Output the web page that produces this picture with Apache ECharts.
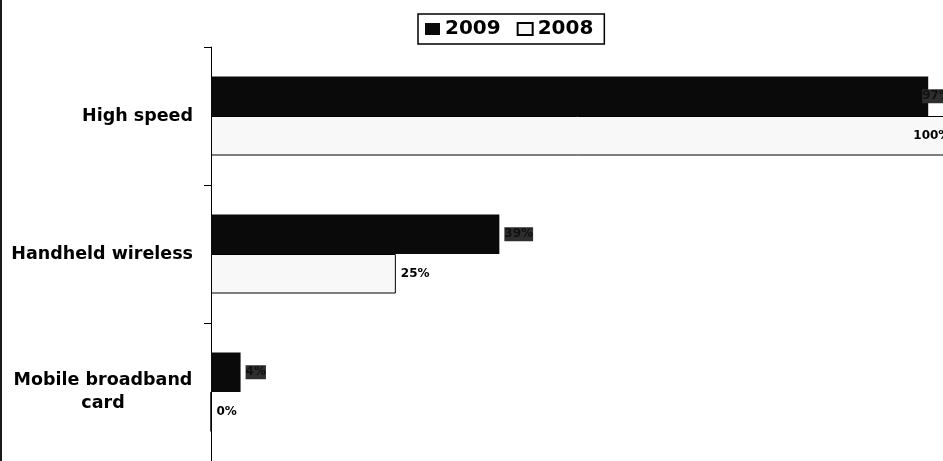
<!DOCTYPE html>
<html>
<head>
<meta charset="utf-8">
<script src="https://cdn.jsdelivr.net/npm/echarts@6/dist/echarts.min.js"></script>
<style>
  html, body { margin: 0; padding: 0; background: #fff; }
  #chart { width: 943px; height: 461px; }
</style>
</head>
<body>
<div id="chart"></div>
<script>
// Access types, top to bottom
const categories = ['High speed', 'Handheld wireless', 'Mobile broadband\ncard'];
// Share of respondents (%)
const values2009 = [97, 39, 4];
const values2008 = [100, 25, 0];
const seriesNames = ['2009', '2008'];

const FONT = '"DejaVu Sans", "Liberation Sans", Arial, sans-serif';

const chart = echarts.init(document.getElementById('chart'), null, { renderer: 'canvas' });

// Labels near the right edge are pulled back inside the plot
const items2009 = values2009.map((v, i) => ({
  value: v,
  label: v > 90 ? { offset: [-11, 0] } : {}
}));
const items2008 = values2008.map((v) => ({
  value: v,
  label: v >= 100 ? { position: 'insideRight', distance: 0 } : {}
}));

chart.setOption({
  animation: false,
  backgroundColor: '#fff',
  textStyle: { fontFamily: FONT },
  graphic: [{
    type: 'rect',
    left: 0, top: 0,
    shape: { width: 2, height: 461 },
    style: { fill: '#1a1a1a' }
  }],
  legend: {
    data: seriesNames,
    icon: 'rect',
    left: 418,
    top: 14,
    padding: [5, 11, 5, 7],
    itemGap: 16,
    itemWidth: 15,
    itemHeight: 12,
    borderColor: '#000',
    borderWidth: 1.5,
    textStyle: { fontFamily: FONT, fontWeight: 'bold', fontSize: 20, color: '#000' }
  },
  grid: { left: 211, right: 0, top: 47, bottom: 0, containLabel: false },
  xAxis: {
    type: 'value',
    min: 0,
    max: 99,
    show: false
  },
  yAxis: {
    type: 'category',
    inverse: true,
    data: categories,
    axisLine: { show: true, lineStyle: { color: '#000', width: 1 } },
    axisTick: { show: true, length: 7, lineStyle: { color: '#000' } },
    axisLabel: {
      margin: 18,
      fontFamily: FONT,
      fontWeight: 'bold',
      fontSize: 17.5,
      color: '#000',
      lineHeight: 23,
      formatter: function (v) {
        if (v.indexOf('\n') >= 0) {
          return v.split('\n').map(s => '{c|' + s + '}').join('\n');
        }
        return v;
      },
      rich: {
        c: { width: 180, align: 'center', fontFamily: FONT, fontWeight: 'bold', fontSize: 17.5, color: '#000', lineHeight: 23 }
      }
    }
  },
  series: [
    {
      name: seriesNames[0],
      type: 'bar',
      data: items2009,
      clip: false,
      barWidth: 39.5,
      barGap: '0%',
      itemStyle: { color: '#0a0a0a' },
      label: {
        show: true,
        position: 'right',
        distance: 5,
        formatter: '{c}%',
        fontFamily: FONT,
        fontWeight: 'bold',
        fontSize: 12,
        color: '#111',
        backgroundColor: '#2e2e2e',
        padding: [1, 0, 1, 0]
      }
    },
    {
      name: seriesNames[1],
      type: 'bar',
      data: items2008,
      clip: false,
      barWidth: 39.5,
      barGap: '0%',
      itemStyle: { color: '#f8f8f8', borderColor: '#000', borderWidth: 1 },
      label: {
        show: true,
        position: 'right',
        distance: 5,
        formatter: '{c}%',
        fontFamily: FONT,
        fontWeight: 'bold',
        fontSize: 12,
        color: '#000'
      }
    }
  ]
});
</script>
</body>
</html>
